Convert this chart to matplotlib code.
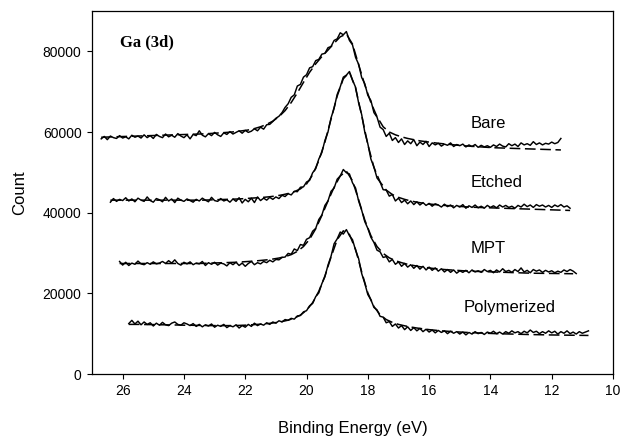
import numpy as np
import matplotlib
matplotlib.use("Agg")
import matplotlib.pyplot as plt

# ---------------- data (counts) ----------------
STEP_DATA = 0.1   # eV, spacing of measured points
STEP_FIT = 0.2    # eV, spacing of fitted-curve points

bare_start = 26.7
bare_counts = [
    58300, 58900, 58100, 59000, 58600, 58400, 59100, 58500, 58800, 58300,
    59200, 58700, 59000, 58500, 59300, 58600, 59100, 58400, 59400, 58900,
    58600, 59500, 58800, 59200, 58700, 59600, 59000, 58600, 59300, 58300,
    59400, 59100, 60300, 59200, 58800, 59600, 59100, 59900, 59300, 58900,
    59800, 59400, 60100, 59500, 59900, 60300, 59700, 60400, 59900, 60200,
    60800, 60300, 61200, 60700, 61800, 61900, 62600, 63400, 63900, 64800,
    66100, 67000, 68600, 69200, 71400, 71800, 73600, 74200, 75900, 76200,
    77700, 78000, 79300, 79500, 80900, 81200, 82700, 83100, 84600, 84100,
    84900, 82700, 81600, 78500, 76800, 73500, 72000, 69100, 67800, 64800,
    63700, 61200, 60600, 58900, 59700, 57900, 58600, 57400, 58300, 56900,
    57800, 57100, 58100, 56600, 57500, 56900, 57700, 56400, 57300, 56800,
    57200, 56500, 57000, 56700, 57300, 56400, 56900, 56600, 57000, 56300,
    56800, 56400, 56900, 56200, 56700, 56300, 56600, 56200, 56800, 56400,
    57000, 56500, 56300, 57100, 56600, 57000, 56400, 57300, 56800, 57100,
    56700, 57600, 56900, 57300, 56800, 57200, 57000, 57500, 57100, 57400,
    58400,
]
bare_fit = [
    58700, 58750, 58800, 58850, 58900, 58950, 59000, 59050, 59100, 59150,
    59200, 59250, 59300, 59350, 59400, 59450, 59500, 59550, 59650, 59750,
    59850, 59950, 60100, 60300, 60500, 60850, 61300, 61900, 62700, 63800,
    65300, 67300, 69700, 72300, 74800, 76900, 78700, 80300, 82000, 83600,
    84300, 81800, 76700, 71700, 67300, 63800, 61300, 60000, 59300, 58800,
    58400, 58100, 57800, 57600, 57400, 57200, 57050, 56900, 56750, 56600,
    56500, 56400, 56300, 56200, 56100, 56050, 56000, 55950, 55900, 55850,
    55800, 55750, 55700, 55650, 55600, 55550,
]

etched_start = 26.4
etched_counts = [
    42600, 43500, 42800, 43300, 43000, 43700, 42900, 43400, 42700, 43600,
    43100, 42800, 43900, 43000, 42600, 43500, 43200, 42700, 43800, 42900,
    43400, 42500, 43600, 43100, 42800, 43400, 43000, 42600, 43300, 42900,
    43600, 43100, 42700, 43800, 43000, 42800, 43500, 42900, 43200, 42600,
    43400, 42800, 43700, 42400, 43300, 42700, 43600, 42500, 43900, 43000,
    43600, 43100, 43800, 43300, 43900, 43500, 44300, 44000, 44700, 44400,
    45300, 45200, 46300, 46400, 47600, 48000, 49900, 50900, 53300, 54900,
    57900, 60000, 63500, 65900, 69300, 71200, 73600, 74100, 75000, 72900,
    71100, 67200, 64300, 60000, 57100, 53300, 51300, 48600, 47600, 45700,
    45600, 44100, 44500, 42900, 43600, 42500, 43100, 42200, 42900, 42000,
    42700, 41900, 42500, 41800, 42300, 41600, 42200, 41900, 41400, 42100,
    41500, 41900, 41200, 41800, 41400, 42000, 41100, 41700, 41300, 41900,
    41200, 41600, 41100, 41800, 41300, 41700, 41200, 41900, 41400, 41800,
    41300, 41600, 41100, 41800, 41400, 42100, 41500, 41900, 41300, 42000,
    41600, 41900, 41400, 41800, 41300, 41900, 41500, 42000, 41400, 41700,
    41100,
]
etched_fit = [
    43100, 43100, 43100, 43100, 43100, 43100, 43100, 43100, 43100, 43100,
    43100, 43100, 43100, 43100, 43100, 43100, 43150, 43200, 43250, 43300,
    43350, 43400, 43500, 43600, 43700, 43800, 43950, 44150, 44400, 44750,
    45200, 45900, 47100, 49400, 52900, 57500, 63200, 68900, 73200, 74800,
    70900, 64100, 56900, 51200, 47600, 45600, 44500, 43800, 43300, 42900,
    42600, 42350, 42150, 42000, 41850, 41750, 41650, 41550, 41450, 41350,
    41300, 41250, 41200, 41150, 41100, 41050, 41000, 40950, 40900, 40850,
    40800, 40750, 40700, 40650, 40600, 40550,
]

mpt_start = 26.1
mpt_counts = [
    27900, 27000, 27700, 26900, 27500, 27200, 28000, 27300, 27100, 27600,
    27200, 27800, 27300, 27500, 27900, 27400, 28100, 27500, 28300, 27400,
    27000, 27700, 27300, 27800, 27100, 27500, 27300, 27900, 26900, 27600,
    27200, 27700, 27000, 27500, 27300, 26800, 27600, 27100, 27700, 26900,
    27500, 26700, 27400, 27900, 27100, 27600, 27300, 27900, 27600, 28200,
    27800, 28400, 28300, 28900, 29000, 29900, 29700, 31000, 30600, 32100,
    31900, 33400, 33800, 35400, 36100, 38300, 39400, 41800, 42900, 45300,
    46100, 48300, 49100, 50700, 49900, 49600, 47400, 46100, 42900, 40600,
    37800, 36100, 33900, 32600, 30700, 30300, 28900, 29100, 27800, 28400,
    27200, 27800, 26700, 27400, 26500, 27100, 26200, 26900, 26000, 26700,
    25800, 26500, 25700, 26300, 25500, 26100, 25300, 25900, 25200, 25800,
    25000, 25600, 25200, 25700, 25100, 25800, 25300, 25600, 25200, 25900,
    25400, 25700, 25100, 25800, 25300, 26100, 25400, 25700, 25200, 25900,
    25400, 26300, 25300, 25700, 25100, 25900, 25500, 25800, 25200, 25700,
    25300, 25600, 25100, 25500, 25200, 25800, 25400, 25900, 25500, 24900,
]
mpt_fit = [
    27400, 27400, 27400, 27400, 27400, 27400, 27400, 27400, 27400, 27400,
    27400, 27400, 27400, 27400, 27450, 27500, 27550, 27600, 27650, 27700,
    27800, 27900, 28000, 28150, 28300, 28500, 28750, 29100, 29600, 30400,
    31600, 33400, 36000, 39300, 42900, 46300, 49100, 50300, 47900, 43200,
    38200, 34300, 31600, 29900, 28800, 28100, 27600, 27200, 26900, 26600,
    26400, 26200, 26050, 25900, 25800, 25700, 25600, 25520, 25450, 25400,
    25350, 25300, 25250, 25200, 25150, 25100, 25050, 25000, 24980, 24960,
    24940, 24920, 24900, 24880, 24860,
]

poly_start = 25.8
poly_counts = [
    12500, 13300, 12400, 13100, 12200, 12900, 12300, 12700, 11900, 12600,
    12100, 12800, 12200, 12000, 12600, 12900, 12300, 12100, 12700, 12400,
    12000, 12500, 11800, 12300, 11700, 12200, 11900, 12400, 11600, 12100,
    11800, 12300, 11500, 12000, 11700, 12200, 11400, 12000, 11600, 12300,
    11800, 12600, 12000, 12400, 12100, 12700, 12300, 12900, 12600, 13200,
    12900, 13500, 13300, 13800, 13600, 14400, 14500, 15400, 15700, 16900,
    17500, 19200, 20100, 22400, 24100, 27000, 29200, 32300, 33500, 35200,
    34700, 35800, 34300, 33300, 30700, 28600, 24900, 22500, 19700, 18400,
    16500, 15900, 14300, 14100, 12700, 13000, 11800, 12400, 11400, 12000,
    11000, 11700, 10800, 11500, 10700, 11300, 10500, 11100, 10400, 10900,
    10200, 10800, 10300, 10700, 10000, 10600, 10100, 10500, 9900, 10400,
    9700, 10300, 9900, 10500, 10000, 10300, 9800, 10400, 10100, 10600,
    10000, 10400, 9900, 10500, 10100, 10700, 10200, 10500, 10000, 10600,
    10200, 10900, 10300, 10600, 10000, 10500, 10100, 10700, 10200, 10600,
    9900, 10500, 10100, 10700, 10000, 10400, 9900, 10500, 10100, 10400,
    10700,
]
poly_fit = [
    12300, 12300, 12300, 12250, 12250, 12200, 12200, 12150, 12150, 12100,
    12100, 12050, 12050, 12000, 12000, 12000, 12000, 12000, 12050, 12100,
    12200, 12300, 12400, 12550, 12750, 13000, 13350, 13850, 14600, 15800,
    17700, 20500, 24300, 29000, 33300, 35500, 34600, 30900, 25300, 20100,
    16700, 14700, 13500, 12800, 12300, 11950, 11650, 11400, 11200, 11000,
    10850, 10700, 10600, 10500, 10400, 10320, 10250, 10180, 10120, 10060,
    10000, 9960, 9920, 9880, 9840, 9800, 9770, 9740, 9710, 9680,
    9660, 9640, 9620, 9600, 9580, 9560,
]

series_names = ["Bare", "Etched", "MPT", "Polymerized"]
x_ticks = [26, 24, 22, 20, 18, 16, 14, 12, 10]
y_ticks = [0, 20000, 40000, 60000, 80000]

# ---------------- plotting ----------------
plt.rcParams['font.family'] = ['Liberation Sans', 'DejaVu Sans']

fig = plt.figure(figsize=(6.23, 4.36), dpi=100)
ax = fig.add_axes([92 / 623, 62 / 436, 521 / 623, 363 / 436])

series = [
    (bare_start, bare_counts, bare_fit),
    (etched_start, etched_counts, etched_fit),
    (mpt_start, mpt_counts, mpt_fit),
    (poly_start, poly_counts, poly_fit),
]
for start, counts, fit in series:
    xe = start - STEP_DATA * np.arange(len(counts))
    xf = start - STEP_FIT * np.arange(len(fit))
    ax.plot(xf, fit, color='black', lw=1.1, ls=(0, (7, 3)))
    ax.plot(xe, counts, color='black', lw=1.05)

label_pos = [(14.63, 62200), (14.63, 47600), (14.63, 31000), (14.86, 16600)]
for name, (lx, ly) in zip(series_names, label_pos):
    ax.text(lx, ly, name, fontsize=12, ha='left', va='center')

ax.text(26.09, 82300, "Ga (3d)", fontsize=12, fontweight='bold',
        family=['Liberation Serif', 'DejaVu Serif'], ha='left', va='center')

ax.set_xlim(27, 10)
ax.set_ylim(0, 90000)
ax.set_xticks(x_ticks)
ax.set_xticklabels([str(t) for t in x_ticks])
ax.set_yticks(y_ticks)
ax.set_yticklabels([str(t) for t in y_ticks])
ax.tick_params(axis='both', direction='out', length=3.5, width=0.8,
               labelsize=10, pad=4, top=False, right=False)
for sp in ax.spines.values():
    sp.set_linewidth(0.9)
    sp.set_color('black')

ax.set_xlabel("Binding Energy (eV)", fontsize=12, labelpad=16)
ax.set_ylabel("Count", fontsize=12, labelpad=11)

fig.savefig("out.png", dpi=100)
